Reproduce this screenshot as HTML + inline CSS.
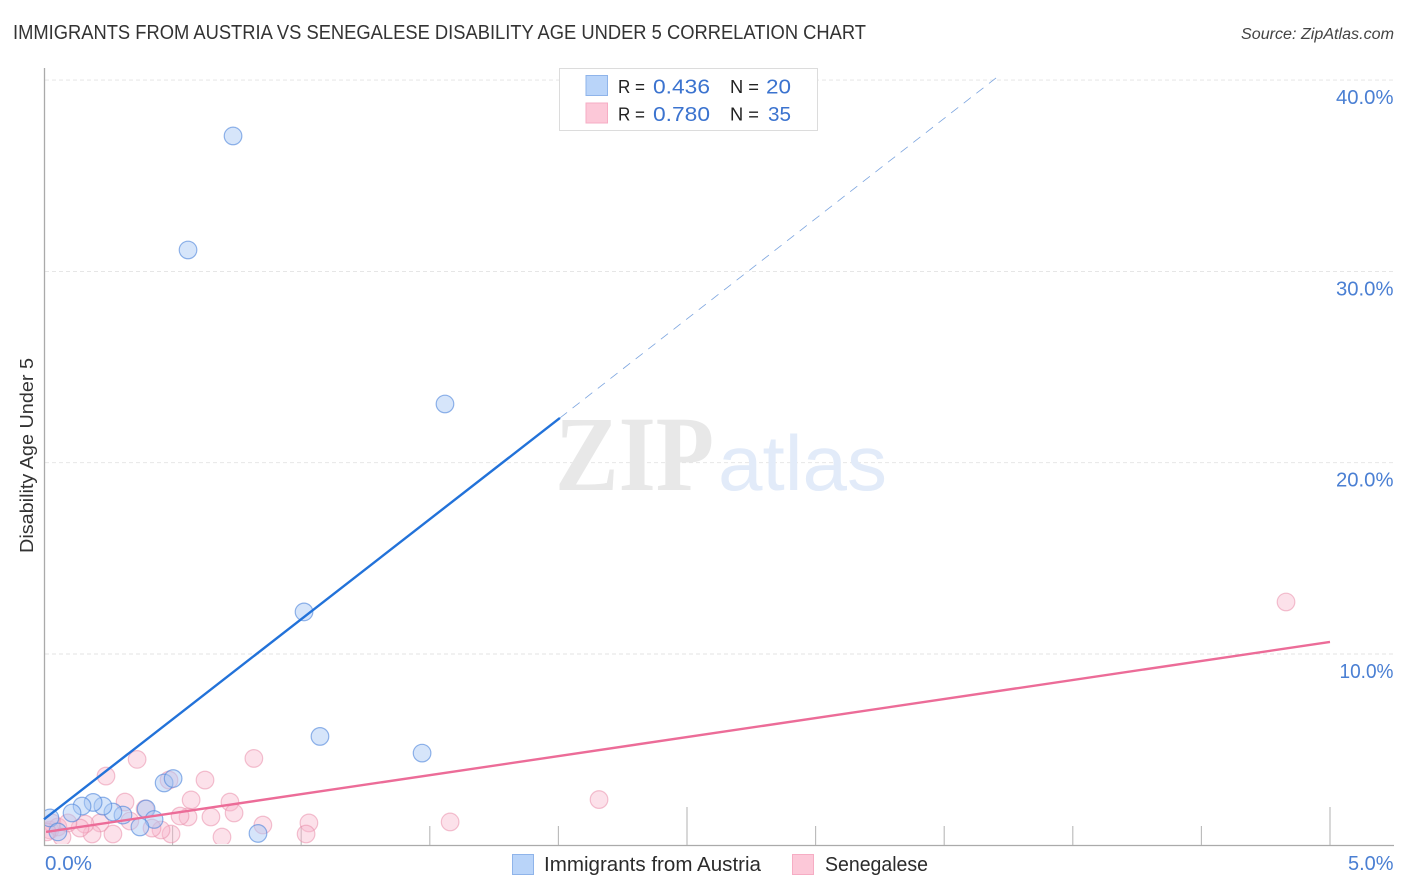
<!DOCTYPE html>
<html lang="en">
<head>
<meta charset="utf-8">
<title>Immigrants from Austria vs Senegalese Disability Age Under 5 Correlation Chart</title>
<style>
html,body{margin:0;padding:0;background:#fff;width:1406px;height:892px;overflow:hidden}
svg{display:block;font-family:"Liberation Sans",sans-serif}
</style>
</head>
<body>
<svg id="chart" xmlns="http://www.w3.org/2000/svg" width="1406" height="892" viewBox="0 0 1406 892">
  <defs>
    <clipPath id="plot-clip"><rect x="45" y="68" width="1349" height="776"/></clipPath>
  </defs>
  <text x="13" y="39" font-size="20" fill="#333" textLength="853" lengthAdjust="spacingAndGlyphs">IMMIGRANTS FROM AUSTRIA VS SENEGALESE DISABILITY AGE UNDER 5 CORRELATION CHART</text>
  <text x="1241" y="39" font-size="15.5" font-style="italic" fill="#444" textLength="153" lengthAdjust="spacingAndGlyphs">Source: ZipAtlas.com</text>

  <g id="grid"></g>

  <g>
    <text x="555" y="490" font-family="'Liberation Serif',serif" font-weight="bold" font-size="107" fill="#e8e8e8" textLength="159" lengthAdjust="spacingAndGlyphs">ZIP</text>
    <text x="718" y="490" font-size="78" fill="#e2ebf9" textLength="169" lengthAdjust="spacingAndGlyphs">atlas</text>
  </g>

  <g id="axes"></g>
  <g id="points" clip-path="url(#plot-clip)"></g>
  <g id="trends"></g>
  <g id="labels"></g>

  <text transform="translate(33,553) rotate(-90)" font-size="18.5" fill="#333" textLength="195" lengthAdjust="spacingAndGlyphs">Disability Age Under 5</text>

  <g>
    <rect x="559.5" y="68.5" width="258" height="62" fill="#fff" stroke="#dcdcdc" stroke-width="1"/>
    <rect x="586" y="75.5" width="21.5" height="20" fill="#b9d4f9" stroke="#8fb4ea"/>
    <rect x="586" y="103" width="21.5" height="20" fill="#fcc8d8" stroke="#f6adc4"/>
    <text x="618" y="93" font-size="18.5" fill="#222" textLength="27" lengthAdjust="spacingAndGlyphs">R =</text>
    <text x="653" y="93.5" font-size="20.5" fill="#3b73cf" textLength="57" lengthAdjust="spacingAndGlyphs">0.436</text>
    <text x="730" y="93" font-size="18.5" fill="#222" textLength="29" lengthAdjust="spacingAndGlyphs">N =</text>
    <text x="766" y="93.5" font-size="20.5" fill="#3b73cf" textLength="25" lengthAdjust="spacingAndGlyphs">20</text>
    <text x="618" y="120.5" font-size="18.5" fill="#222" textLength="27" lengthAdjust="spacingAndGlyphs">R =</text>
    <text x="653" y="121" font-size="20.5" fill="#3b73cf" textLength="57" lengthAdjust="spacingAndGlyphs">0.780</text>
    <text x="730" y="120.5" font-size="18.5" fill="#222" textLength="29" lengthAdjust="spacingAndGlyphs">N =</text>
    <text x="768" y="121" font-size="20.5" fill="#3b73cf" textLength="23" lengthAdjust="spacingAndGlyphs">35</text>
  </g>

  <g>
    <rect x="512.5" y="854.5" width="21" height="20" fill="#b9d4f9" stroke="#8fb4ea"/>
    <text x="544" y="871" font-size="20" fill="#2b2b2b" textLength="217" lengthAdjust="spacingAndGlyphs">Immigrants from Austria</text>
    <rect x="792.5" y="854.5" width="21" height="20" fill="#fcc8d8" stroke="#f6adc4"/>
    <text x="825" y="871" font-size="20" fill="#2b2b2b" textLength="103" lengthAdjust="spacingAndGlyphs">Senegalese</text>
  </g>
</svg>
<script>
const austriaX = [0.735,0.560,1.559,1.011,1.073,1.470,0.832,0.467,0.502,0.397,0.428,0.373,0.307,0.268,0.229,0.191,0.148,0.109,0.023,0.054];
const austriaY = [37.08,31.12,23.07,12.20,5.69,4.82,0.62,3.26,3.49,1.90,1.35,0.96,1.58,1.74,2.05,2.24,2.05,1.69,1.43,0.70];
const senegaleseX = [0.362,0.241,0.816,0.626,0.486,0.572,0.315,0.723,0.739,0.649,0.560,0.529,0.393,0.851,1.030,1.019,0.692,0.494,0.455,0.420,0.334,0.268,0.218,0.187,0.159,0.140,4.829,2.158,1.579,0.023,0.054,0.070,0.031,0.012,0.093];
const senegaleseY = [4.49,3.62,4.54,3.41,3.41,2.37,2.26,2.26,1.69,1.48,1.48,1.53,1.90,1.06,1.17,0.59,0.43,0.59,0.80,0.90,1.27,0.59,1.17,0.59,1.11,0.90,12.72,2.39,1.22,0.80,0.96,0.43,1.17,0.70,1.17];
const austriaTrendX = [0.0, 2.006];
const austriaTrendY = [1.36, 22.34];
const austriaDashX = [2.006, 3.71];
const austriaDashY = [22.34, 40.2];
const senegaleseTrendX = [0.008, 5.0];
const senegaleseTrendY = [0.70, 10.63];
const yTicks = [10, 20, 30, 40];
const yTickLabels = ["10.0%", "20.0%", "30.0%", "40.0%"];
const xTicks = [0.5, 1.0, 1.5, 2.0, 2.5, 3.0, 3.5, 4.0, 4.5, 5.0];
const xMajorTicks = [2.5, 5.0];
const xEndLabels = ["0.0%", "5.0%"];

const NS = "http://www.w3.org/2000/svg";
function xScale(v) { return 44 + v * 257.2; }
function yScale(v) { return 845.3 - v * 19.13; }
function make(parent, tag, attrs) {
  const el = document.createElementNS(NS, tag);
  for (const k in attrs) el.setAttribute(k, attrs[k]);
  parent.appendChild(el);
  return el;
}
const grid = document.getElementById("grid");
const axes = document.getElementById("axes");
const points = document.getElementById("points");
const trends = document.getElementById("trends");
const labels = document.getElementById("labels");

yTicks.forEach(function (t, i) {
  const line = make(grid, "line", { x1: 45, x2: 1394, y1: yScale(t), y2: yScale(t), stroke: "#e3e3e3", "stroke-width": 0.9, "stroke-dasharray": "4 3" });
  
  
  const label = make(labels, "text", { x: 1393.5, y: yScale(t) + 24, "text-anchor": "end", "font-size": 20, fill: "#4a7fd3", textLength: t === 10 ? 54 : 57.5, lengthAdjust: "spacingAndGlyphs" });
  label.textContent = yTickLabels[i];
  
  
});

const yAxis = make(axes, "line", { x1: 44.5, x2: 44.5, y1: 68, y2: 846, stroke: "#aaaaaa", "stroke-width": 1.3 });


const xAxis = make(axes, "line", { x1: 44, x2: 1394, y1: 845.5, y2: 845.5, stroke: "#aaaaaa", "stroke-width": 1.3 });



xTicks.forEach(function (t) {
  const top = xMajorTicks.indexOf(t) >= 0 ? 807 : 826;
  const tick = make(axes, "line", { x1: xScale(t), x2: xScale(t), y1: top, y2: 845, stroke: "#b8b8b8", "stroke-width": 1.1 });
  
  
});

const xLabelLeft = make(labels, "text", { x: 45, y: 870, "font-size": 20, fill: "#4a7fd3", textLength: 47, lengthAdjust: "spacingAndGlyphs" });
xLabelLeft.textContent = xEndLabels[0];


const xLabelRight = make(labels, "text", { x: 1348, y: 870, "font-size": 20, fill: "#4a7fd3", textLength: 45.5, lengthAdjust: "spacingAndGlyphs" });
xLabelRight.textContent = xEndLabels[1];



senegaleseX.forEach(function (x, i) {
  const c = make(points, "circle", { cx: xScale(x), cy: yScale(senegaleseY[i]), r: 8.8, fill: "#f8b8cc", "fill-opacity": 0.42, stroke: "#ea8fac", "stroke-opacity": 0.55, "stroke-width": 1.2 });
  
  
});
austriaX.forEach(function (x, i) {
  const c = make(points, "circle", { cx: xScale(x), cy: yScale(austriaY[i]), r: 8.8, fill: "#a9c8f5", "fill-opacity": 0.48, stroke: "#4f86dc", "stroke-opacity": 0.62, "stroke-width": 1.2 });
  
  
});

const blueSolid = make(trends, "line", { x1: xScale(austriaTrendX[0]), y1: yScale(austriaTrendY[0]), x2: xScale(austriaTrendX[1]), y2: yScale(austriaTrendY[1]), stroke: "#2272d9", "stroke-width": 2.4 });


const blueDash = make(trends, "line", { x1: xScale(austriaDashX[0]), y1: yScale(austriaDashY[0]), x2: xScale(austriaDashX[1]), y2: yScale(austriaDashY[1]), stroke: "#7ba4df", "stroke-width": 0.8, "stroke-dasharray": "9 7" });


const pinkSolid = make(trends, "line", { x1: xScale(senegaleseTrendX[0]), y1: yScale(senegaleseTrendY[0]), x2: xScale(senegaleseTrendX[1]), y2: yScale(senegaleseTrendY[1]), stroke: "#ec6c98", "stroke-width": 2.4 });


</script>
</body>
</html>
